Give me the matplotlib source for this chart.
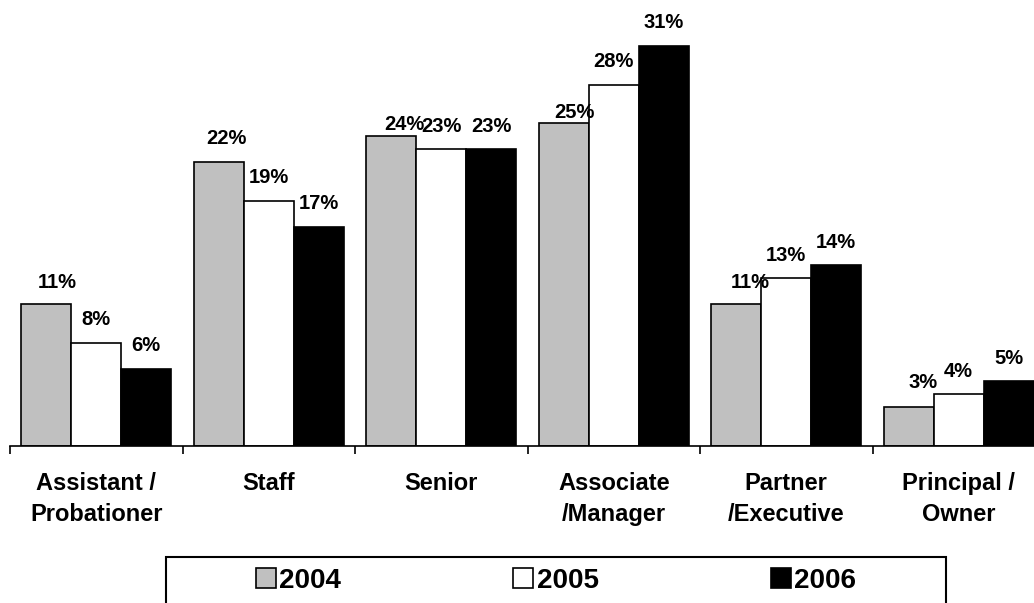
# Grouped bar chart: share of respondents by position, 2004-2006
import matplotlib
matplotlib.use("Agg")
import matplotlib.pyplot as plt
from matplotlib.patches import Rectangle
import numpy as np

plt.rcParams['font.family'] = ['Liberation Sans', 'DejaVu Sans']
plt.rcParams['font.weight'] = 'bold'

# data
categories = ['Assistant /\nProbationer', 'Staff', 'Senior',
              'Associate\n/Manager', 'Partner\n/Executive', 'Principal /\nOwner']
years = ['2004', '2005', '2006']
values_2004 = [11, 22, 24, 25, 11, 3]
values_2005 = [8, 19, 23, 28, 13, 4]
values_2006 = [6, 17, 23, 31, 14, 5]

colors = ['#c0c0c0', 'white', 'black']

# label nudges in pixels (dx, dy above bar top) where labels got pushed aside
nudges = {(0, 0): (11, 22), (0, 1): (8, 23), (0, 2): (13, 12),
          (0, 3): (11, 11), (0, 4): (14, 22), (0, 5): (14, 25)}

W, H = 1034, 603
fig = plt.figure(figsize=(W / 100, H / 100), dpi=100)
# axes spans from x=10 to x=1045 px, baseline at y=446 px, 33% at y=20 px
ax = fig.add_axes([10 / W, (H - 446) / H, 1035 / W, 426 / H])

x = np.arange(len(categories))
width = 0.29
series = [values_2004, values_2005, values_2006]
bars = []
for i, (vals, col) in enumerate(zip(series, colors)):
    b = ax.bar(x + (i - 1) * width, vals, width, color=col,
               edgecolor='black', linewidth=1.2, label=years[i])
    bars.append(b)
    for j, v in enumerate(vals):
        dx, dy = nudges.get((i, j), (0, 23))
        ax.annotate(f'{v}%', (x[j] + (i - 1) * width, v), xytext=(dx, dy),
                    textcoords='offset pixels', ha='center', va='center',
                    fontsize=14.5, fontweight='bold')

ax.set_xlim(-0.5, len(categories) - 0.5)
ax.set_ylim(0, 33)

for s in ['left', 'top', 'right']:
    ax.spines[s].set_visible(False)
ax.spines['bottom'].set_linewidth(1.2)
ax.set_yticks([])

ax.set_xticks(x)
ax.set_xticklabels(categories, fontsize=17, fontweight='bold', linespacing=1.4)
ax.tick_params(axis='x', which='major', length=0, pad=19)
ax.set_xticks(np.arange(-0.5, len(categories)), minor=True)
ax.tick_params(axis='x', which='minor', length=6, width=1.2, direction='out')

# legend box (runs past the bottom edge)
fig.patches.append(Rectangle((166 / W, -0.05), 780 / W, 0.05 + (H - 557) / H,
                             transform=fig.transFigure, facecolor='none',
                             edgecolor='black', linewidth=1.5))
fig.legend(handles=[b[0] for b in bars], labels=years, ncol=3, loc='center',
           bbox_to_anchor=(556 / W, (H - 581) / H), frameon=False,
           prop={'size': 20, 'weight': 'bold'}, handlelength=0.72,
           handleheight=0.72, handletextpad=0.12, columnspacing=6.2)

fig.savefig('out.png', dpi=100)
